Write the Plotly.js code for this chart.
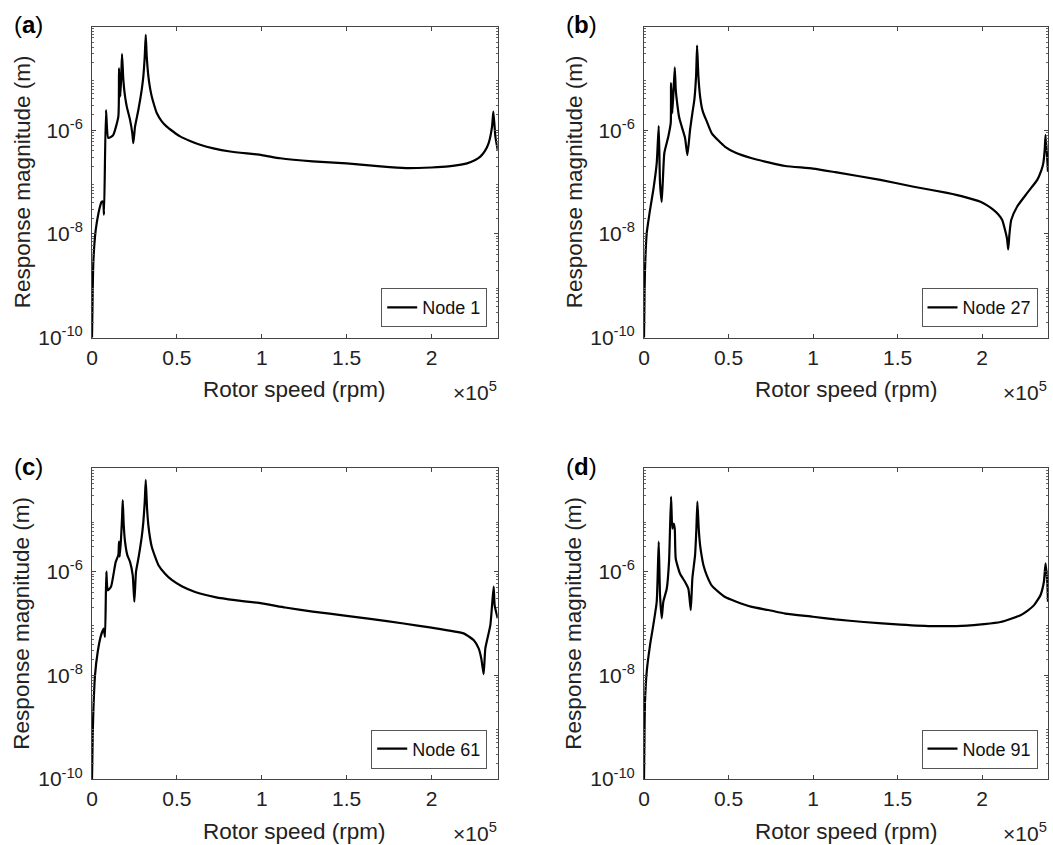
<!DOCTYPE html>
<html><head><meta charset="utf-8">
<script src="https://cdn.plot.ly/plotly-3.0.1.min.js"></script>
<style>html,body{margin:0;padding:0;background:#fff}#chart{width:1053px;height:845px}</style>
</head><body><div id="chart"></div>
<script>
// ---- data (rotor speed in rpm, response magnitude in m) ----
const speedA = [0, 400, 770, 1770, 2770, 4720, 5720, 6490, 7080, 8250, 9610, 12380, 15510, 15920, 16690, 17290, 17690, 18460, 19460, 20460, 22410, 23760, 24350, 25350, 27300, 29300, 30250, 31070, 31660, 32250, 33200, 34200, 35200, 36560, 38150, 41100, 44040, 47940, 51890, 57780, 63680, 71520, 81370, 100000, 110850, 130000, 150000, 170000, 185000, 200000, 210000, 220930, 225500, 228770, 231500, 233670, 235670, 236440, 237620, 239000];
const respA  = [1e-10, 7.2e-10, 2.75e-9, 8.91e-9, 1.62e-8, 3.39e-8, 4.17e-8, 4.17e-8, 2.34e-8, 2.45e-6, 7.08e-7, 7.94e-7, 1.82e-6, 1.58e-5, 4.47e-6, 1.26e-5, 2.95e-5, 9.33e-6, 4.47e-6, 2.88e-6, 1.58e-6, 8.71e-7, 5.62e-7, 1.17e-6, 2.45e-6, 6.03e-6, 1.10e-5, 2.63e-5, 6.92e-5, 2.63e-5, 1.10e-5, 6.46e-6, 4.47e-6, 3.09e-6, 2.14e-6, 1.48e-6, 1.17e-6, 9.33e-7, 7.59e-7, 6.17e-7, 5.25e-7, 4.47e-7, 3.89e-7, 3.31e-7, 2.88e-7, 2.51e-7, 2.29e-7, 2.00e-7, 1.86e-7, 1.91e-7, 2.00e-7, 2.29e-7, 2.63e-7, 3.09e-7, 3.98e-7, 5.62e-7, 1.17e-6, 2.29e-6, 7.59e-7, 4.17e-7];

const speedB = [0, 300, 590, 1600, 3550, 5510, 7520, 8710, 9480, 10490, 12030, 14400, 15820, 16000, 16770, 18190, 18780, 19370, 20730, 22330, 24290, 25650, 27250, 28620, 29800, 30810, 31400, 32170, 33180, 34180, 35130, 37140, 40110, 44020, 47990, 53910, 63800, 73640, 83530, 100000, 113150, 139810, 159540, 179330, 190000, 199050, 203000, 206930, 209500, 211910, 213860, 214800, 215460, 216200, 217240, 220790, 226720, 232640, 235000, 236200, 237000, 237560, 238570, 239000];
const respB  = [1e-10, 6.31e-10, 2.04e-9, 1.02e-8, 2.88e-8, 7.08e-8, 2.29e-7, 1.20e-6, 9.55e-8, 4.17e-8, 3.63e-7, 7.59e-7, 1.38e-6, 8.13e-6, 2.14e-6, 1.62e-5, 6.03e-6, 3.89e-6, 1.82e-6, 1.17e-6, 7.08e-7, 3.31e-7, 1.02e-6, 2.14e-6, 3.89e-6, 1.10e-5, 4.27e-5, 1.10e-5, 4.47e-6, 2.75e-6, 2.14e-6, 1.48e-6, 8.71e-7, 6.31e-7, 4.79e-7, 3.72e-7, 2.88e-7, 2.40e-7, 2.04e-7, 1.82e-7, 1.55e-7, 1.10e-7, 8.13e-8, 6.17e-8, 5.13e-8, 4.17e-8, 3.55e-8, 2.88e-8, 2.40e-8, 1.86e-8, 1.10e-8, 7.94e-9, 5.01e-9, 1.0e-8, 1.86e-8, 3.39e-8, 6.17e-8, 1.10e-7, 1.66e-7, 2.29e-7, 3.98e-7, 8.13e-7, 2.69e-7, 1.58e-7];

const speedC = [0, 400, 770, 1770, 3360, 5310, 6900, 7670, 8430, 9260, 11200, 13970, 15510, 15920, 16330, 17100, 17690, 18100, 18690, 19460, 20810, 22410, 24000, 24940, 25940, 27300, 28300, 29300, 30250, 31070, 31660, 32430, 33200, 34200, 35200, 37150, 39090, 43040, 46990, 52890, 60730, 72520, 84320, 100000, 113800, 130000, 150000, 163900, 183550, 200000, 218930, 222000, 224820, 227770, 229360, 230720, 231720, 234670, 236620, 237210, 239000];
const respC  = [1e-10, 6.31e-10, 1.95e-9, 1.00e-8, 2.82e-8, 5.89e-8, 7.94e-8, 5.50e-8, 1.00e-6, 4.37e-7, 5.13e-7, 1.55e-6, 2.09e-6, 3.80e-6, 1.95e-6, 4.37e-6, 1.07e-5, 2.40e-5, 7.94e-6, 3.80e-6, 2.09e-6, 1.55e-6, 8.51e-7, 2.63e-7, 1.00e-6, 1.78e-6, 2.82e-6, 4.68e-6, 9.12e-6, 2.24e-5, 5.89e-5, 1.66e-5, 7.94e-6, 4.47e-6, 3.02e-6, 1.95e-6, 1.35e-6, 9.12e-7, 6.92e-7, 5.25e-7, 4.07e-7, 3.24e-7, 2.82e-7, 2.45e-7, 2.04e-7, 1.70e-7, 1.41e-7, 1.23e-7, 1.00e-7, 8.32e-8, 6.46e-8, 5.62e-8, 4.79e-8, 3.31e-8, 2.09e-8, 1.05e-8, 3.31e-8, 9.33e-8, 5.13e-7, 2.24e-7, 1.26e-7];

const speedD = [0, 300, 590, 1600, 3550, 5510, 7520, 8710, 9480, 10490, 11430, 13450, 14810, 16000, 16770, 17590, 18190, 18780, 21330, 24290, 26240, 27670, 28610, 30210, 30990, 31580, 32380, 33180, 34180, 35130, 37140, 40110, 44020, 47990, 53910, 63800, 73640, 83530, 100000, 113150, 130000, 151660, 171390, 191170, 210900, 222750, 227000, 230630, 233000, 234600, 236550, 237560, 238570, 239000];
const respD  = [1e-10, 7.94e-10, 3.09e-9, 1.17e-8, 3.80e-8, 9.33e-8, 2.63e-7, 3.80e-6, 3.55e-7, 1.26e-7, 2.63e-7, 4.68e-7, 1.55e-6, 2.82e-5, 6.76e-6, 8.51e-6, 6.76e-6, 1.78e-6, 9.12e-7, 6.31e-7, 4.68e-7, 1.82e-7, 7.41e-7, 2.09e-6, 6.76e-6, 2.24e-5, 6.76e-6, 3.24e-6, 1.95e-6, 1.35e-6, 8.51e-7, 5.37e-7, 4.07e-7, 3.24e-7, 2.69e-7, 2.09e-7, 1.82e-7, 1.55e-7, 1.35e-7, 1.20e-7, 1.07e-7, 9.55e-8, 8.91e-8, 9.12e-8, 1.07e-7, 1.45e-7, 1.78e-7, 2.24e-7, 2.88e-7, 3.55e-7, 6.31e-7, 1.45e-6, 6.31e-7, 2.63e-7];

const seriesNames = ['Node 1', 'Node 27', 'Node 61', 'Node 91'];
const panelLetters = ['a', 'b', 'c', 'd'];
const xTickVals = [0, 50000, 100000, 150000, 200000];
const xTickText = ['0', '0.5', '1', '1.5', '2'];
const yTickVals = [1e-10, 1e-8, 1e-6];
const yTickText = ['10<sup>-10</sup>', '10<sup>-8</sup>', '10<sup>-6</sup>'];
const xTitle = 'Rotor speed (rpm)';
const yTitle = 'Response magnitude (m)';
const xExponent = '×10<sup>5</sup>';

// ---- layout geometry (pixels) ----
const W = 1053, H = 845;
const FONT = 'Liberation Sans, Arial, Helvetica, sans-serif';
const panels = [
  {x0: 92, x1: 497.7, y0: 26.7, y1: 337.7},
  {x0: 644, x1: 1048, y0: 26.7, y1: 337.7},
  {x0: 92, x1: 497.7, y0: 468.3, y1: 779},
  {x0: 644, x1: 1048, y0: 468.3, y1: 779}
];
const fx = p => p / W;
const fy = p => 1 - p / H;

const speeds = [speedA, speedB, speedC, speedD];
const resps = [respA, respB, respC, respD];

const minorVals = [];
for (let e = -10; e < -4; e++) for (let m = 2; m <= 9; m++) minorVals.push(m * Math.pow(10, e));

const traces = [];
const layout = {
  width: W, height: H,
  margin: {l: 0, r: 0, t: 0, b: 0},
  paper_bgcolor: '#fff', plot_bgcolor: '#fff',
  font: {family: FONT, size: 21, color: '#222'},
  showlegend: true,
  annotations: []
};

panels.forEach((p, i) => {
  const k = i === 0 ? '' : String(i + 1);
  const legendId = 'legend' + k;
  traces.push({
    x: speeds[i], y: resps[i],
    xaxis: 'x' + k, yaxis: 'y' + k,
    type: 'scatter', mode: 'lines',
    name: seriesNames[i],
    legend: legendId,
    line: {color: '#000', width: 2.2, shape: 'spline', smoothing: 0.5}
  });
  const common = {
    showline: true, linecolor: '#444', linewidth: 1, mirror: 'ticks',
    ticks: 'inside', ticklen: 4, tickcolor: '#444', tickwidth: 1,
    showgrid: false, zeroline: false,
    tickfont: {family: FONT, size: 21, color: '#222'}
  };
  layout['xaxis' + k] = Object.assign({}, common, {
    domain: [fx(p.x0), fx(p.x1)],
    anchor: 'y' + k,
    range: [0, 239000],
    tickmode: 'array', tickvals: xTickVals, ticktext: xTickText,
    ticklabelstandoff: 1
  });
  layout['yaxis' + k] = Object.assign({}, common, {
    domain: [fy(p.y1), fy(p.y0)],
    anchor: 'x' + k,
    type: 'log',
    range: [-10, -4.005],
    tickmode: 'array', tickvals: yTickVals, ticktext: yTickText,
    ticklabelstandoff: 4,
    minor: {tickmode: 'array', tickvals: minorVals, ticks: 'inside', ticklen: 2, tickcolor: '#666', showgrid: false}
  });
  layout[legendId] = {
    x: fx(p.x1 - 10.5), y: fy(p.y1 - 10.5),
    xanchor: 'right', yanchor: 'bottom',
    xref: 'paper', yref: 'paper',
    bgcolor: '#fff', bordercolor: '#555', borderwidth: 1,
    font: {family: FONT, size: 18, color: '#111'},
    tracegroupgap: 0
  };
  const cx = (p.x0 + p.x1) / 2, cy = (p.y0 + p.y1) / 2;
  layout.annotations.push(
    {text: '(<b>' + panelLetters[i] + '</b>)', x: fx(p.x0 - 80), y: fy(p.y0 - 2), xref: 'paper', yref: 'paper',
     xanchor: 'left', yanchor: 'middle', showarrow: false, font: {family: FONT, size: 24, color: '#000'}},
    {text: yTitle, textangle: -90, x: fx(p.x0 - 70), y: fy(cy), xref: 'paper', yref: 'paper',
     xanchor: 'center', yanchor: 'middle', showarrow: false, font: {family: FONT, size: 22.5, color: '#222'}},
    {text: xTitle, x: fx(cx), y: fy(p.y1 + 52), xref: 'paper', yref: 'paper',
     xanchor: 'center', yanchor: 'middle', showarrow: false, font: {family: FONT, size: 22.5, color: '#222'}},
    {text: xExponent, x: fx(p.x1 + 1), y: fy(p.y1 + 53), xref: 'paper', yref: 'paper',
     xanchor: 'right', yanchor: 'middle', showarrow: false, font: {family: FONT, size: 21, color: '#222'}}
  );
});

Plotly.newPlot('chart', traces, layout, {displayModeBar: false, staticPlot: true});
</script>
</body></html>
